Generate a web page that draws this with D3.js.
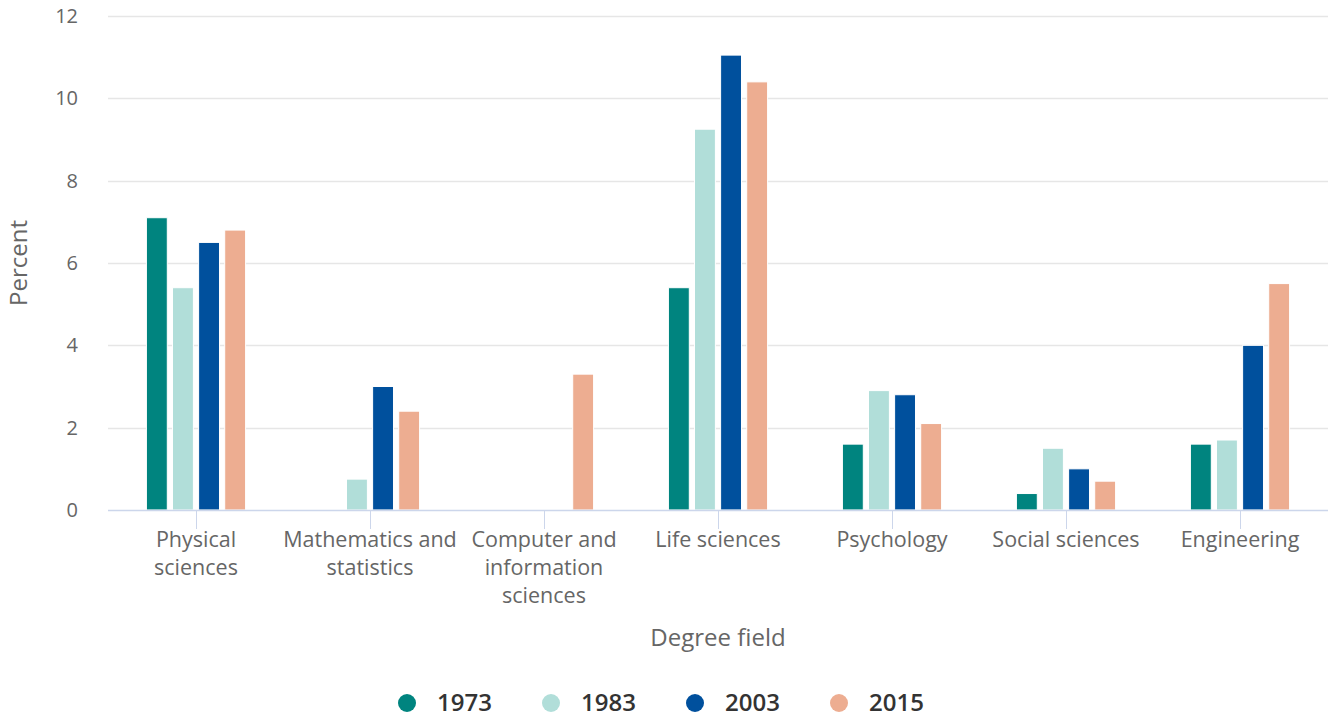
<!DOCTYPE html>
<html>
<head>
<meta charset="utf-8">
<script src="https://cdn.jsdelivr.net/npm/d3@7"></script>
<style>
body{margin:0;background:#fff;font-family:"Open Sans",sans-serif;}
</style>
</head>
<body>
<script>
const svg_width = 1331, svg_height = 717;

// data
var categories = [["Physical","sciences"],["Mathematics and","statistics"],["Computer and","information","sciences"],
	["Life sciences"],["Psychology"],["Social sciences"],["Engineering"]];
var years = ["1973","1983","2003","2015"];
var colors = ["#00847f","#b1ded9","#00509d","#edad91"];
var v1973 = [7.1, 0, 0, 5.4, 1.6, 0.4, 1.6];
var v1983 = [5.4, 0.75, 0, 9.25, 2.9, 1.5, 1.7];
var v2003 = [6.5, 3.0, 0, 11.05, 2.8, 1.0, 4.0];
var v2015 = [6.8, 2.4, 3.3, 10.4, 2.1, 0.7, 5.5];
var yTicks = [0,2,4,6,8,10,12];

var series = [v1973,v1983,v2003,v2015];
var plotLeft = 109, plotRight = 1327, plotTop = 16, plotBottom = 510;

var svg = d3.select("body").append("svg")
.attr("width",svg_width)
.attr("height",svg_height);

var catIdx = d3.range(categories.length);
var x0 = d3.scaleBand().domain(catIdx).range([plotLeft,plotRight]).paddingInner(0.4).paddingOuter(0.2);
var x1 = d3.scaleBand().domain(d3.range(years.length)).range([0,x0.bandwidth()]).paddingInner(0.2).paddingOuter(0.1);
var y = d3.scaleLinear().domain([0,12]).range([plotBottom,plotTop]);

// grid
svg.append("g").selectAll("line")
.data(yTicks.filter(function(d){return d>0}))
.enter().append("line")
.attr("x1",plotLeft-1).attr("x2",plotRight+1)
.attr("y1",function(d){return Math.round(y(d))+0.5}).attr("y2",function(d){return Math.round(y(d))+0.5})
.attr("stroke","#e6e6e6").attr("stroke-width",1.5);

// y tick labels
svg.append("g").selectAll("text")
.data(yTicks).enter().append("text")
.attr("x",78).attr("y",function(d){return y(d)})
.attr("dy","0.35em")
.attr("text-anchor","end")
.style("font-size","20px").style("fill","#666")
.text(function(d){return d});

// bars
var groups = svg.append("g").selectAll("g")
.data(catIdx).enter().append("g")
.attr("transform",function(c){return "translate("+x0(c)+",0)"});
groups.selectAll("rect")
.data(function(c){return series.map(function(s,i){return {i:i,v:s[c]}}).filter(function(d){return d.v>0})})
.enter().append("rect")
.attr("x",function(d){return x1(d.i)})
.attr("y",function(d){return y(d.v)})
.attr("width",x1.bandwidth())
.attr("height",function(d){return y(0)-y(d.v)})
.attr("fill",function(d){return colors[d.i]})
.attr("stroke","#fff").attr("stroke-width",1);

// x axis line and ticks
svg.append("line")
.attr("x1",plotLeft-1).attr("x2",plotRight+1)
.attr("y1",plotBottom+0.5).attr("y2",plotBottom+0.5)
.attr("stroke","#ccd6eb").attr("stroke-width",1.5);
svg.append("g").selectAll("line")
.data(catIdx).enter().append("line")
.attr("x1",function(c){return Math.round(x0(c)+x0.bandwidth()/2)+0.5})
.attr("x2",function(c){return Math.round(x0(c)+x0.bandwidth()/2)+0.5})
.attr("y1",plotBottom).attr("y2",plotBottom+19)
.attr("stroke","#ccd6eb").attr("stroke-width",1);

// x labels
var labels = svg.append("g").selectAll("text")
.data(catIdx).enter().append("text")
.attr("x",function(c){return x0(c)+x0.bandwidth()/2})
.attr("y",547)
.attr("text-anchor","middle")
.style("font-size","21.5px").style("fill","#666");
labels.selectAll("tspan")
.data(function(c){return categories[c].map(function(t){return {t:t,c:c}})})
.enter().append("tspan")
.attr("x",function(d){return x0(d.c)+x0.bandwidth()/2})
.attr("dy",function(d,i){return i==0?0:28})
.text(function(d){return d.t});

// axis titles
svg.append("text")
.attr("x",(plotLeft+plotRight)/2).attr("y",646)
.attr("text-anchor","middle")
.style("font-size","24px").style("fill","#666")
.text("Degree field");
svg.append("text")
.attr("transform","translate(27,"+((plotTop+plotBottom)/2)+") rotate(-90)")
.attr("text-anchor","middle")
.style("font-size","24px").style("fill","#666")
.text("Percent");

// legend
var legend = svg.append("g").selectAll("g")
.data(years).enter().append("g")
.attr("transform",function(d,i){return "translate("+(407+i*144)+",703)"});
legend.append("circle")
.attr("r",9)
.attr("fill",function(d,i){return colors[i]});
legend.append("text")
.attr("x",30).attr("dy","0.35em")
.style("font-size","24px").style("font-weight","600").style("fill","#333")
.text(function(d){return d});
</script>
</body>
</html>
